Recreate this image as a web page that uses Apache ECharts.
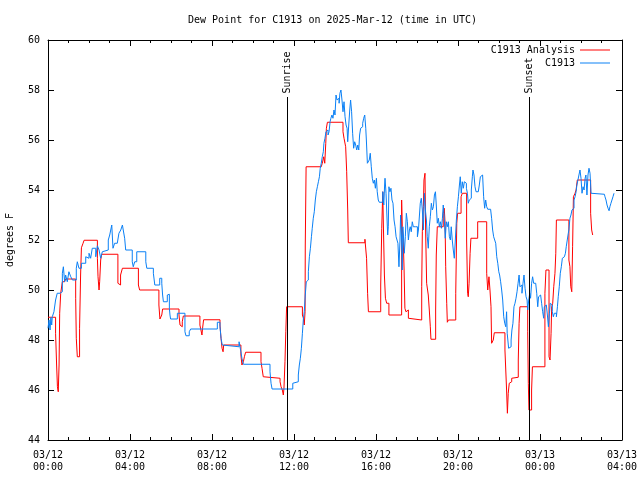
<!DOCTYPE html>
<html>
<head>
<meta charset="utf-8">
<script src="https://cdn.jsdelivr.net/npm/echarts@6/dist/echarts.min.js"></script>
<style>html,body{margin:0;padding:0;background:#fff}#c{width:640px;height:480px}</style>
</head>
<body>
<div id="c"></div>
<script>
// time in hours since 03/12 00:00 UTC
const xTickLabels = ['03/12\n00:00','03/12\n04:00','03/12\n08:00','03/12\n12:00','03/12\n16:00','03/12\n20:00','03/13\n00:00','03/13\n04:00'];
const sunriseH = 11.67;
const sunsetH = 23.48;

const redT = [0.00,0.37,0.42,0.46,0.50,0.54,0.57,0.62,0.70,0.81,0.86,1.35,1.38,1.43,1.54,1.59,1.63,1.71,1.76,2.41,2.44,2.49,2.52,2.57,2.62,3.41,3.50,3.54,3.63,4.41,4.47,5.41,5.46,5.55,5.59,6.39,6.44,6.49,6.55,6.60,7.41,7.46,7.51,7.54,7.59,8.39,8.44,8.49,8.54,8.57,9.41,9.46,9.53,9.58,9.64,10.39,10.44,10.50,10.59,11.32,11.37,11.43,11.48,11.51,11.56,11.60,11.64,12.41,12.46,12.50,12.54,12.55,12.59,13.33,13.38,13.45,13.50,13.55,13.58,13.63,14.39,14.44,14.52,14.57,14.62,14.65,15.46,15.51,15.54,15.59,15.63,16.23,16.28,16.33,16.36,16.41,16.46,16.52,16.63,17.25,17.28,17.33,17.37,17.41,17.46,17.51,17.58,17.61,18.23,18.26,18.31,18.34,18.39,18.42,18.47,18.55,18.60,18.65,18.68,18.91,18.94,18.99,19.28,19.33,19.37,19.40,19.45,19.48,19.53,19.89,19.94,19.98,20.15,20.21,20.42,20.47,20.50,20.54,20.59,20.63,20.96,21.40,21.45,21.51,21.56,21.61,21.64,21.72,21.77,22.29,22.37,22.41,22.45,22.50,22.54,22.62,22.70,22.94,22.98,23.02,23.40,23.43,23.46,23.59,23.63,24.24,24.29,24.44,24.49,24.54,24.57,24.62,24.67,24.73,24.77,24.80,25.41,25.46,25.50,25.55,25.59,25.63,25.71,25.76,25.82,26.47,26.52,26.57];
const redV = [48.91,48.27,47.0,46.13,45.93,47.0,49.07,49.87,50.33,50.4,50.44,49.67,48.07,47.33,48.47,50.6,51.69,51.87,51.99,51.27,50.53,50.0,50.33,51.2,51.43,50.27,50.2,50.6,50.87,50.2,50.0,49.4,48.84,49.0,49.24,49.0,48.6,48.53,48.73,48.96,48.6,48.4,48.2,48.47,48.81,48.6,48.07,47.67,47.53,47.8,47.4,47.0,47.13,47.33,47.51,47.13,46.87,46.53,46.47,46.33,46.13,46.0,45.8,46.07,47.13,48.33,49.33,49.0,48.87,48.6,49.13,51.8,54.93,55.0,55.07,55.33,55.07,55.87,56.47,56.71,56.33,56.07,55.73,54.73,53.2,51.89,52.03,51.96,51.27,49.87,49.13,50.2,52.47,53.93,52.6,50.6,49.67,49.47,49.0,53.6,52.53,52.0,50.8,49.27,49.13,49.2,48.87,48.8,50.13,52.33,53.33,54.4,54.67,52.4,50.27,49.8,49.2,48.53,48.03,49.2,51.4,52.53,53.07,53.27,52.67,50.93,49.47,48.71,48.8,49.87,52.67,53.07,53.73,53.87,52.0,49.87,49.73,50.27,51.47,52.07,52.73,50.67,50.0,50.53,50.0,49.33,47.87,48.0,48.29,47.6,46.0,45.07,45.87,46.27,46.33,46.47,46.51,47.2,48.67,49.33,48.33,46.27,45.2,46.0,46.93,49.87,50.8,47.33,47.2,48.27,49.33,49.47,50.13,50.67,51.47,52.8,51.2,50.93,50.13,49.93,51.73,53.73,53.87,54.0,54.4,53.07,52.4,52.2];

const blueT = [0.00,0.05,0.10,0.14,0.18,0.21,0.29,0.37,0.45,0.59,0.70,0.75,0.81,0.86,0.94,1.02,1.11,1.19,1.38,1.43,1.51,1.63,1.84,1.92,2.00,2.08,2.16,2.33,2.41,2.49,2.57,2.65,2.73,2.94,3.01,3.06,3.11,3.17,3.25,3.38,3.46,3.55,3.63,3.67,3.74,3.79,4.11,4.16,4.23,4.33,4.77,4.82,5.14,5.21,5.45,5.55,5.59,5.63,5.82,5.87,5.92,5.95,5.98,6.31,6.68,6.73,6.89,6.96,8.26,8.39,8.44,8.50,8.55,9.32,9.37,9.41,9.46,9.53,10.83,10.88,10.93,11.94,12.00,12.21,12.26,12.31,12.36,12.41,12.46,12.50,12.55,12.60,12.65,12.70,12.75,12.80,12.85,12.89,12.94,12.99,13.04,13.09,13.14,13.19,13.24,13.28,13.33,13.38,13.43,13.46,13.51,13.56,13.61,13.66,13.71,13.76,13.80,13.85,13.90,13.95,14.00,14.05,14.10,14.15,14.20,14.24,14.29,14.34,14.39,14.44,14.49,14.54,14.59,14.62,14.67,14.72,14.76,14.81,14.86,14.91,14.96,15.01,15.06,15.11,15.16,15.20,15.25,15.30,15.35,15.40,15.45,15.50,15.53,15.58,15.63,15.67,15.72,15.77,15.82,15.87,15.92,15.97,16.02,16.06,16.11,16.16,16.33,16.38,16.42,16.44,16.49,16.54,16.57,16.60,16.63,16.68,16.73,16.78,16.83,16.88,16.93,16.98,17.07,17.12,17.17,17.20,17.25,17.28,17.31,17.35,17.38,17.43,17.48,17.53,17.58,17.63,17.67,17.72,17.77,17.82,17.92,17.97,18.02,18.07,18.16,18.21,18.26,18.31,18.36,18.41,18.46,18.50,18.55,18.60,18.65,18.70,18.75,18.80,18.85,18.90,18.94,18.99,19.04,19.09,19.14,19.19,19.24,19.28,19.33,19.38,19.43,19.48,19.53,19.58,19.63,19.67,19.72,19.77,19.82,19.87,19.92,19.97,20.02,20.07,20.11,20.16,20.21,20.26,20.31,20.36,20.41,20.46,20.50,20.55,20.60,20.65,20.70,20.73,20.78,20.83,20.88,20.99,21.04,21.09,21.14,21.20,21.25,21.30,21.35,21.40,21.45,21.59,21.64,21.69,21.74,21.79,21.84,21.89,21.94,21.99,22.03,22.08,22.13,22.18,22.23,22.28,22.33,22.37,22.40,22.47,22.54,22.59,22.63,22.68,22.73,22.78,22.83,22.88,22.93,22.98,23.02,23.07,23.12,23.17,23.22,23.27,23.32,23.37,23.40,23.45,23.50,23.54,23.59,23.64,23.69,23.79,23.84,23.89,23.93,23.98,24.03,24.08,24.13,24.18,24.21,24.26,24.31,24.36,24.41,24.46,24.50,24.55,24.60,24.65,24.70,24.80,24.85,24.89,24.94,24.99,25.04,25.09,25.14,25.19,25.24,25.28,25.33,25.38,25.41,25.46,25.51,25.56,25.61,25.66,25.71,25.76,25.80,25.85,25.90,25.95,26.00,26.05,26.10,26.15,26.20,26.24,26.29,26.34,26.39,26.44,26.49,26.54,27.14,27.17,27.22,27.27,27.32,27.37,27.41,27.46,27.51,27.56,27.61];
const blueV = [48.47,48.8,48.4,48.9,48.6,48.93,49.13,49.6,49.87,49.93,50.67,50.93,50.33,50.6,50.33,50.73,50.53,50.4,50.87,51.13,50.87,51.07,51.33,51.27,51.47,51.27,51.67,51.33,51.77,51.6,51.27,51.53,51.6,52.0,52.2,52.4,52.6,51.67,51.87,51.93,52.27,52.4,52.6,52.4,52.07,51.6,51.13,50.93,51.13,51.53,51.13,50.87,50.67,50.2,50.47,50.27,49.8,49.53,49.8,49.83,49.27,49.0,48.84,49.07,48.33,48.17,48.33,48.44,48.71,48.53,48.07,47.8,47.73,47.93,48.0,47.53,47.27,47.03,46.73,46.27,46.04,46.27,46.33,46.6,47.0,47.27,47.67,48.27,48.87,49.13,49.8,50.33,50.4,50.73,51.33,51.67,52.13,52.47,52.87,53.13,53.6,53.93,54.13,54.33,54.53,54.87,55.07,55.33,55.53,55.87,56.07,56.33,56.4,56.2,56.33,56.73,56.87,57.0,56.87,57.2,57.0,57.8,57.6,57.67,57.47,57.87,58.0,57.6,57.13,57.53,56.93,56.6,56.47,55.93,56.6,57.2,57.6,57.13,56.27,55.67,55.93,55.8,55.6,55.8,55.6,56.2,56.47,56.53,56.67,56.87,57.0,56.47,56.0,55.07,55.0,55.2,55.47,54.93,54.47,54.27,54.4,54.07,54.47,53.93,53.6,53.51,53.93,53.4,54.2,54.47,53.87,52.8,52.2,52.53,54.13,53.93,54.07,53.6,53.47,52.8,52.53,52.13,51.87,50.93,52.0,53.0,52.0,50.8,52.53,52.0,51.47,52.13,53.07,52.73,52.0,52.4,52.53,52.33,52.73,52.53,52.47,52.53,52.13,52.4,53.47,53.67,53.2,52.4,53.87,53.2,52.8,52.13,51.67,52.53,52.93,53.47,53.2,53.33,53.8,53.93,53.4,52.67,52.87,52.53,52.73,52.47,52.87,53.4,52.87,52.07,52.73,52.53,52.73,52.13,52.0,52.53,52.0,51.6,51.27,52.0,52.8,53.33,53.73,54.2,54.53,53.87,54.33,54.07,54.33,54.27,54.07,53.87,53.47,53.6,53.67,54.0,54.53,54.8,54.6,54.13,53.93,53.93,54.2,54.53,54.6,54.53,53.73,53.27,53.6,53.33,53.23,53.2,52.87,52.4,52.13,52.0,51.87,51.33,51.07,50.73,50.6,50.33,50.0,49.6,48.93,48.67,48.53,49.13,48.27,47.67,47.73,48.0,48.4,48.67,49.33,49.47,49.67,49.93,50.27,50.6,50.13,50.2,49.87,50.27,50.6,50.07,49.73,49.6,49.2,49.6,49.87,49.67,50.27,50.53,50.27,50.2,49.87,49.33,49.73,49.8,49.73,49.47,49.13,48.87,49.33,49.4,49.33,49.0,48.53,49.07,49.47,49.4,49.13,48.93,49.07,48.93,49.33,49.73,50.13,50.67,50.93,51.27,51.33,51.27,51.47,51.73,52.0,52.27,52.4,52.87,53.0,53.2,53.27,53.6,53.73,53.93,54.2,54.4,54.6,54.8,54.47,53.87,54.13,54.0,54.47,54.6,53.8,54.6,54.87,54.67,53.87,53.83,53.83,53.73,53.6,53.4,53.27,53.17,53.33,53.47,53.6,53.73,53.87];

const FONT = 'DejaVu Sans Mono';
const zip = (t, v) => t.map((x, i) => [x, v[i]]);

const chart = echarts.init(document.getElementById('c'), null, {renderer: 'canvas'});

const axisCommon = {
  axisLine: {show: true, onZero: false, lineStyle: {color: '#000', width: 1}},
  splitLine: {show: false}
};

chart.setOption({
  animation: false,
  backgroundColor: '#fff',
  title: {
    text: 'Dew Point for C1913 on 2025-Mar-12 (time in UTC)',
    left: 188, top: 15, padding: 0,
    textStyle: {fontFamily: FONT, fontSize: 10, fontWeight: 'normal', color: '#000'}
  },
  legend: [
    {data: ['C1913 Analysis'], orient: 'vertical', right: 30, top: 45, padding: 0, align: 'right',
     icon: 'rect', itemWidth: 30, itemHeight: 1, selectedMode: false,
     textStyle: {fontFamily: FONT, fontSize: 10, color: '#000'}},
    {data: ['C1913'], orient: 'vertical', right: 30, top: 58, padding: 0, align: 'right',
     icon: 'rect', itemWidth: 30, itemHeight: 1, selectedMode: false,
     textStyle: {fontFamily: FONT, fontSize: 10, color: '#000'}}
  ],
  grid: {left: 48, right: 18, top: 40, bottom: 40, containLabel: false, outerBoundsMode: 'none'},
  xAxis: [
    Object.assign({}, axisCommon, {
      type: 'value', min: 0, max: 28, interval: 4, position: 'bottom',
      axisTick: {show: true, inside: true, length: 6, lineStyle: {color: '#000'}},
      minorTick: {show: true, splitNumber: 4, length: 3, lineStyle: {color: '#000'}},
      axisLabel: {
        margin: 9, fontFamily: FONT, fontSize: 10, color: '#000', lineHeight: 12,
        formatter: v => xTickLabels[Math.round(v / 4)]
      }
    }),
    Object.assign({}, axisCommon, {
      type: 'value', min: 0, max: 28, interval: 4, position: 'top',
      axisTick: {show: true, inside: true, length: 6, lineStyle: {color: '#000'}},
      minorTick: {show: true, splitNumber: 4, length: 3, lineStyle: {color: '#000'}},
      axisLabel: {show: false}
    })
  ],
  yAxis: [
    Object.assign({}, axisCommon, {
      type: 'value', min: 44, max: 60, interval: 2, position: 'left',
      name: 'degrees F', nameLocation: 'middle', nameGap: 33, nameRotate: 90,
      nameTextStyle: {fontFamily: FONT, fontSize: 10, color: '#000'},
      axisTick: {show: true, inside: true, length: 6, lineStyle: {color: '#000'}},
      axisLabel: {margin: 8, fontFamily: FONT, fontSize: 10, color: '#000'}
    }),
    Object.assign({}, axisCommon, {
      type: 'value', min: 44, max: 60, interval: 2, position: 'right',
      axisTick: {show: true, inside: true, length: 6, lineStyle: {color: '#000'}},
      axisLabel: {show: false}
    })
  ],
  series: [
    {
      name: 'C1913 Analysis', type: 'line', step: 'end', symbol: 'none',
      data: zip(redT, redV), color: '#ff0000',
      lineStyle: {color: '#ff0000', width: 1}, z: 3
    },
    {
      name: 'C1913', type: 'line', step: 'end', symbol: 'none',
      data: zip(blueT, blueV), color: '#0a80f5',
      lineStyle: {color: '#0a80f5', width: 1}, z: 4
    },
    {
      name: 'sun', type: 'scatter', symbolSize: 0, silent: true, z: 5,
      itemStyle: {opacity: 1, color: '#000'},
      data: [[sunriseH, 57.86, 'Sunrise'], [sunsetH, 57.86, 'Sunset']],
      label: {
        show: true, position: 'inside', rotate: 90, align: 'left', verticalAlign: 'middle',
        fontFamily: FONT, fontSize: 10, color: '#000', textBorderWidth: 0, opacity: 1,
        formatter: p => p.data[2]
      },
      markLine: {
        silent: true, symbol: 'none', animation: false,
        lineStyle: {color: '#000', width: 1, type: 'solid', opacity: 1},
        label: {show: false},
        data: [
          [{coord: [sunriseH, 44]}, {coord: [sunriseH, 57.72]}],
          [{coord: [sunsetH, 44]}, {coord: [sunsetH, 57.72]}]
        ]
      }
    }
  ]
});
</script>
</body>
</html>
